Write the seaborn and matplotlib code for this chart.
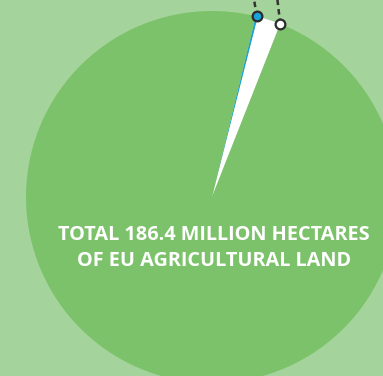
import numpy as np
import matplotlib
matplotlib.use("Agg")
import matplotlib.pyplot as plt
import seaborn as sns

# share of EU agricultural land, million hectares
labels = ["Blue", "White", "Rest"]
hectares = [0.35, 3.75, 182.3]
colors = ["#1ba1dc", "#ffffff", "#7cc26a"]
marker_fill = ["#1ba1dc", "#ffffff"]
title_lines = ["TOTAL 186.4 MILLION HECTARES", "OF EU AGRICULTURAL LAND"]

sns.set_style("white")
plt.rcParams["font.family"] = ["Open Sans", "DejaVu Sans"]

bg = "#a5d39c"
W, H = 383, 376
fig = plt.figure(figsize=(W / 100, H / 100), dpi=100, facecolor=bg)
ax = fig.add_axes([0, 0, 1, 1])
ax.set_facecolor(bg)

cx, cy, R = 212, H - 197, 186
start = 76.4
ax.pie(hectares, colors=colors, startangle=start, counterclock=False,
       center=(cx, cy), radius=R, frame=True,
       wedgeprops=dict(linewidth=0, antialiased=True))
ax.set_xlim(0, W)
ax.set_ylim(0, H)
ax.set_aspect("equal")
ax.axis("off")

total = sum(hectares)
cum = np.cumsum([0] + hectares)
# blue marker mid-slice, white marker at the slice end
angs = [start - (cum[0] + hectares[0] / 2) / total * 360,
        start - cum[2] / total * 360]
for a, fc in zip(angs, marker_fill):
    mx = cx + R * np.cos(np.radians(a))
    my = cy + R * np.sin(np.radians(a))
    ax.plot([mx, mx - 3], [my, H + 2], ls=(0, (2.2, 1.6)), color="#333333",
            lw=1.8, zorder=3, solid_capstyle="butt")
    ax.plot(mx, my, "o", ms=7, mfc=fc, mec="#2b2b2b", mew=1.6, zorder=4)

ax.text(cx + 2, H - 235, title_lines[0], ha="center", va="center",
        color="white", fontsize=14.3, fontweight="bold")
ax.text(cx + 2, H - 261, title_lines[1], ha="center", va="center",
        color="white", fontsize=14.3, fontweight="bold")

fig.savefig("out.png", dpi=100, facecolor=bg)
